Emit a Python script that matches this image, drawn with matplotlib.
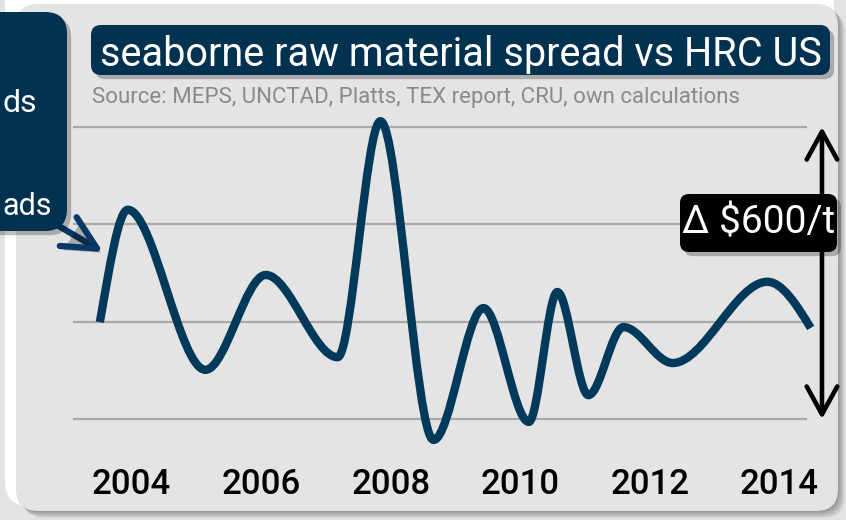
import matplotlib
matplotlib.use("Agg")
import matplotlib.pyplot as plt
import numpy as np
from matplotlib.patches import FancyBboxPatch, PathPatch
from matplotlib.path import Path
from matplotlib import patheffects as pe
from matplotlib.transforms import blended_transform_factory

# turning points of the spread curve ($/t)
years = [2003.51, 2003.94, 2005.14, 2006.07, 2007.18, 2007.84, 2008.66, 2009.43,
         2010.13, 2010.57, 2011.05, 2011.59, 2012.35, 2013.81, 2014.48]
spread = [199, 430, 101, 296, 127, 612, -43, 228, -6, 261, 49, 189, 115, 282, 187]

grid_levels = [0, 200, 400, 600]
tick_years = [2004, 2006, 2008, 2010, 2012, 2014]
delta_low, delta_high = 0, 600

title = "seaborne raw material spread vs HRC US"
source = "Source: MEPS, UNCTAD, Platts, TEX report, CRU, own calculations"
callout_lines = ["ds", "ads"]

W, H = 846, 520
NAVY = "#00395a"
BOXBLUE = "#02324f"
ARROWBLUE = "#0a3866"

plt.rcParams["font.family"] = ["Roboto", "DejaVu Sans"]

fig = plt.figure(figsize=(W / 100, H / 100), dpi=100)
fig.patch.set_facecolor("#e3e3e3")


def pixel_axes(z):
    a = fig.add_axes([0, 0, 1, 1], zorder=z)
    a.set_xlim(0, W)
    a.set_ylim(H, 0)
    a.axis("off")
    a.patch.set_alpha(0)
    return a


def rbox(a, x0, y0, x1, y1, r, **kw):
    p = FancyBboxPatch((x0, y0), x1 - x0, y1 - y0,
                       boxstyle=f"round,pad=0,rounding_size={r}", **kw)
    a.add_patch(p)
    return p


shadow = [pe.SimplePatchShadow(offset=(3, -3), shadow_rgbFace="black", alpha=0.25), pe.Normal()]

# background panel with highlight and soft shadow
bg = pixel_axes(0)
rbox(bg, 5, -20, 834, 506, 24, fc="white", ec="none")
for k in range(1, 8):
    rbox(bg, 16 + k, 4 + k, 838 + k, 511 + k, 22, fc="black", ec="none", alpha=0.05)
rbox(bg, 16, 4, 838, 511, 22, fc="#e4e4e4", ec="none")

# chart area
x0_px, x1_px = 73, 807
yr0, px_per_year = 131.6, 64.8
ylo, yhi = -60, 660
top_px = 419 - yhi / 2.055
bot_px = 419 - ylo / 2.055
ax = fig.add_axes([x0_px / W, 1 - bot_px / H, (x1_px - x0_px) / W, (bot_px - top_px) / H], zorder=1)
ax.patch.set_alpha(0)
ax.set_xlim(2004 + (x0_px - yr0) / px_per_year, 2004 + (x1_px - yr0) / px_per_year)
ax.set_ylim(ylo, yhi)
for s in ax.spines.values():
    s.set_visible(False)
ax.set_yticks([])
ax.set_xticks(tick_years)
ax.set_xticklabels([str(t) for t in tick_years], fontsize=25, color="black", fontweight="medium")
ax.tick_params(axis="x", length=0, pad=14)

for lvl in grid_levels:
    ax.axhline(lvl, color="#a9a9a9", lw=1.6, zorder=1)

# smooth curve through the turning points: flat tangents at the extremes
x = np.array(years)
y = np.array(spread, dtype=float)
h = np.diff(x)
d = np.diff(y) / h
m = np.zeros_like(y)
m[0] = ((2 * h[0] + h[1]) * d[0] - h[0] * d[1]) / (h[0] + h[1])
m[-1] = ((2 * h[-1] + h[-2]) * d[-1] - h[-1] * d[-2]) / (h[-1] + h[-2])
verts = [(x[0], y[0])]
codes = [Path.MOVETO]
for i in range(len(x) - 1):
    verts += [(x[i] + h[i] / 3, y[i] + m[i] * h[i] / 3),
              (x[i + 1] - h[i] / 3, y[i + 1] - m[i + 1] * h[i] / 3),
              (x[i + 1], y[i + 1])]
    codes += [Path.CURVE4] * 3
ax.add_patch(PathPatch(Path(verts, codes), fill=False, ec=NAVY, lw=6,
                       capstyle="butt", joinstyle="round", clip_on=False, zorder=3))

# range arrow
tr = blended_transform_factory(ax.transAxes, ax.transData)
ax.annotate("", xy=(1.0204, delta_high), xytext=(1.0204, delta_low), xycoords=tr, textcoords=tr,
            arrowprops=dict(arrowstyle="<->,head_length=1.0,head_width=0.55", lw=3.3, color="black",
                            shrinkA=0, shrinkB=0, mutation_scale=20, capstyle="round",
                            joinstyle="round"),
            annotation_clip=False)

fg = pixel_axes(2)

# title and source
tb = rbox(fg, 91, 25, 830, 75, 10, fc=BOXBLUE, ec="none")
tb.set_path_effects(shadow)
fg.text(461, 66, title, ha="center", va="baseline", fontsize=28.5, color="white")
fg.text(92, 103, source, ha="left", va="baseline", fontsize=16, color="#8a8a8a")

# delta label
db = rbox(fg, 680, 194, 837, 252, 9, fc="black", ec="none")
db.set_path_effects(shadow)
fg.text(758.5, 223, f"Δ ${delta_high - delta_low}/t", ha="center", va="center",
        fontsize=28, color="white")

# callout on the left edge, its arrow tucked under the box
arr = fg.annotate("", xy=(103, 252), xytext=(45, 218),
                  arrowprops=dict(arrowstyle="->,head_length=1.2,head_width=0.6", lw=4.5,
                                  color=ARROWBLUE, shrinkA=0, shrinkB=0, mutation_scale=20,
                                  capstyle="round", joinstyle="round"))
arr.arrow_patch.set_path_effects(shadow)
cb = rbox(fg, -40, 12, 67, 231, 22, fc=BOXBLUE, ec="none", zorder=3)
cb.set_path_effects(shadow)
fg.text(37, 112, callout_lines[0], ha="right", va="baseline", fontsize=23, color="white", zorder=4)
fg.text(52, 215, callout_lines[1], ha="right", va="baseline", fontsize=22, color="white", zorder=4)

fig.savefig("out.png", dpi=100, facecolor=fig.get_facecolor())
